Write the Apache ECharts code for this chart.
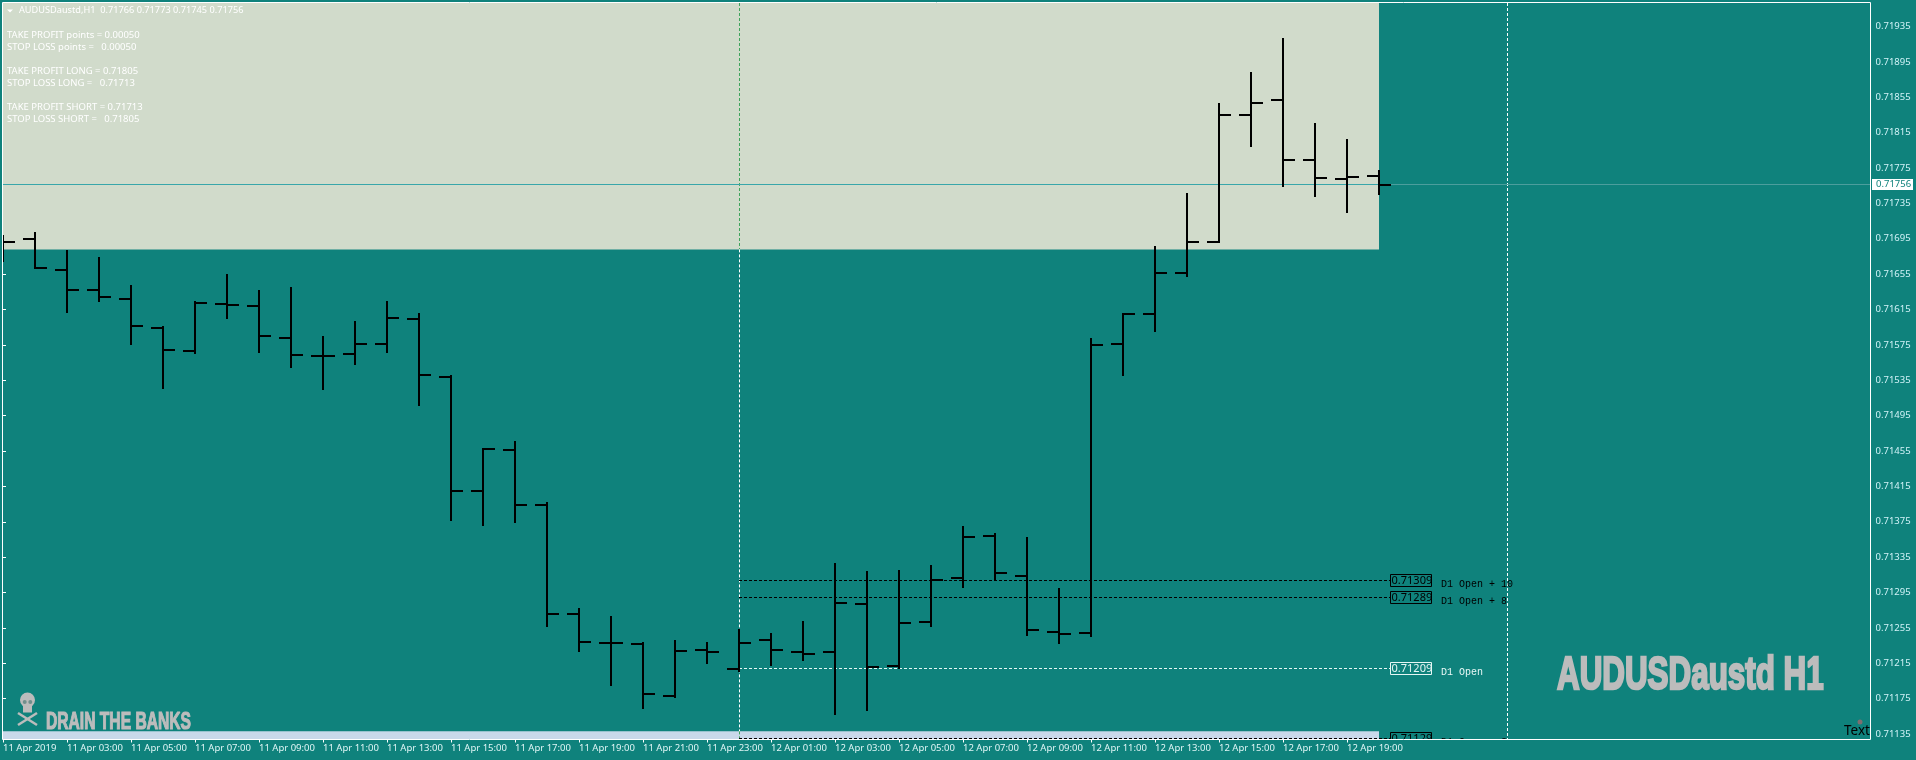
<!DOCTYPE html>
<html>
<head>
<meta charset="utf-8">
<title>AUDUSDaustd H1</title>
<style>
  html, body { margin: 0; padding: 0; background: #0f827c; }
  #chart { width: 1916px; height: 760px; }
</style>
<script src="https://cdn.jsdelivr.net/npm/echarts@6/dist/echarts.min.js"></script>
</head>
<body>
<div id="chart"></div>
<script>
// hourly bars, one row per bar: open, high, low, close
var ohlc = [
  [0.71691, 0.71699, 0.71669, 0.71691], [0.71695, 0.71703, 0.71661, 0.71662],
  [0.71660, 0.71682, 0.71611, 0.71637], [0.71637, 0.71674, 0.71623, 0.71629],
  [0.71627, 0.71643, 0.71575, 0.71596], [0.71594, 0.71596, 0.71525, 0.71569],
  [0.71568, 0.71625, 0.71565, 0.71622], [0.71621, 0.71655, 0.71604, 0.71620],
  [0.71619, 0.71637, 0.71566, 0.71585], [0.71583, 0.71640, 0.71549, 0.71564],
  [0.71562, 0.71585, 0.71524, 0.71562], [0.71565, 0.71602, 0.71552, 0.71576],
  [0.71576, 0.71625, 0.71566, 0.71605], [0.71604, 0.71611, 0.71506, 0.71541],
  [0.71539, 0.71541, 0.71376, 0.71410], [0.71410, 0.71458, 0.71370, 0.71457],
  [0.71456, 0.71466, 0.71374, 0.71394], [0.71394, 0.71397, 0.71256, 0.71271],
  [0.71271, 0.71278, 0.71228, 0.71239], [0.71238, 0.71268, 0.71189, 0.71238],
  [0.71237, 0.71239, 0.71163, 0.71180], [0.71178, 0.71241, 0.71176, 0.71229],
  [0.71230, 0.71239, 0.71214, 0.71228], [0.71209, 0.71254, 0.71205, 0.71238],
  [0.71241, 0.71249, 0.71212, 0.71230], [0.71228, 0.71263, 0.71218, 0.71226],
  [0.71228, 0.71328, 0.71157, 0.71283], [0.71282, 0.71319, 0.71161, 0.71211],
  [0.71212, 0.71320, 0.71209, 0.71261], [0.71262, 0.71326, 0.71256, 0.71309],
  [0.71311, 0.71370, 0.71300, 0.71358], [0.71359, 0.71362, 0.71309, 0.71317],
  [0.71314, 0.71358, 0.71246, 0.71253], [0.71250, 0.71300, 0.71237, 0.71248],
  [0.71249, 0.71583, 0.71245, 0.71575], [0.71576, 0.71611, 0.71540, 0.71610],
  [0.71610, 0.71687, 0.71590, 0.71656], [0.71656, 0.71747, 0.71652, 0.71691],
  [0.71691, 0.71848, 0.71690, 0.71835], [0.71835, 0.71884, 0.71799, 0.71848],
  [0.71852, 0.71922, 0.71754, 0.71784], [0.71784, 0.71826, 0.71742, 0.71764],
  [0.71763, 0.71808, 0.71724, 0.71765], [0.71766, 0.71773, 0.71745, 0.71756]
];

var timeTicks = [0, 2, 4, 6, 8, 10, 12, 14, 16, 18, 20, 22, 24, 26, 28, 30, 32, 34, 36, 38, 40, 42];
var timeLabels = [
  '11 Apr 2019', '11 Apr 03:00', '11 Apr 05:00', '11 Apr 07:00', '11 Apr 09:00', '11 Apr 11:00',
  '11 Apr 13:00', '11 Apr 15:00', '11 Apr 17:00', '11 Apr 19:00', '11 Apr 21:00', '11 Apr 23:00',
  '12 Apr 01:00', '12 Apr 03:00', '12 Apr 05:00', '12 Apr 07:00', '12 Apr 09:00', '12 Apr 11:00',
  '12 Apr 13:00', '12 Apr 15:00', '12 Apr 17:00', '12 Apr 19:00'
];
var priceTicks = [
  0.71135, 0.71175, 0.71215, 0.71255, 0.71295, 0.71335, 0.71375, 0.71415, 0.71455, 0.71495, 0.71535,
  0.71575, 0.71615, 0.71655, 0.71695, 0.71735, 0.71775, 0.71815, 0.71855, 0.71895, 0.71935
];

var lastPrice = 0.71756;
var daySeparators = [23, 47];

// D1 pivot levels, drawn from the day open bar to the price box
var levelPrices = [0.71309, 0.71289, 0.71209, 0.71130];
var levelBoxTexts = ['0.71309', '0.71289', '0.71209', '0.71129'];
var levelNames = ['D1 Open + 10', 'D1 Open + 8', 'D1 Open', 'D1 Open - 8'];
var levelColors = ['#000000', '#000000', '#e6f7f5', '#000000'];

// shaded take profit / stop loss zones: first bar, last bar, top price, bottom price
var zoneBars = [[0, 43], [0, 43]];
var zonePrices = [[0.719616, 0.71683], [0.71138, 0.711288]];
var zoneColors = ['#d1dbcb', '#c9d9ea'];

var infoLines = [
  'TAKE PROFIT points = 0.00050', 'STOP LOSS points =   0.00050', '',
  'TAKE PROFIT LONG = 0.71805', 'STOP LOSS LONG =   0.71713', '',
  'TAKE PROFIT SHORT = 0.71713', 'STOP LOSS SHORT =   0.71805'
];

var BG = '#0f827c';
var UI_FONT = '"Noto Sans"';
var GRAY = '#bcbcbc';
var xMax = 58.359;
var yMin = 0.711288, yMax = 0.719616;
var levelStart = 23, boxStart = 43.36, boxEnd = 44.64, nameStart = 44.94;

function crisp(v) { return Math.floor(v) + 0.5; }

function renderZone(params, api) {
  var i = api.value(0);
  var a = api.coord([zoneBars[i][0], zonePrices[i][0]]);
  var b = api.coord([zoneBars[i][1], zonePrices[i][1]]);
  return { type: 'rect', shape: { x: a[0], y: a[1], width: b[0] - a[0], height: b[1] - a[1] }, style: { fill: zoneColors[i] } };
}

function renderSeparator(params, api) {
  var x = crisp(api.coord([api.value(0), yMax])[0]);
  var top = api.coord([0, yMax])[1], bottom = api.coord([0, yMin])[1];
  var segs = [[top, bottom, '#ffffff']];
  if (api.value(0) < zoneBars[0][1]) {
    var y1 = api.coord([0, zonePrices[0][1]])[1], y2 = api.coord([0, zonePrices[1][0]])[1];
    segs = [[top, y1, '#3fa35c'], [y1, y2, '#ffffff'], [y2, bottom, '#3fa35c']];
  }
  return {
    type: 'group',
    children: segs.map(function(s) {
      return {
        type: 'line', shape: { x1: x, y1: s[0], x2: x, y2: s[1] },
        style: { stroke: s[2], lineWidth: 1, lineDash: [3, 2] }
      };
    })
  };
}

function renderPriceLine(params, api) {
  var y = crisp(api.coord([0, lastPrice])[1]);
  var a = api.coord([0, lastPrice])[0], m = api.coord([zoneBars[0][1], lastPrice])[0], b = api.coord([xMax, lastPrice])[0];
  return {
    type: 'group',
    children: [
      { type: 'line', shape: { x1: a, y1: y, x2: m, y2: y }, style: { stroke: '#38a6aa', lineWidth: 1 } },
      { type: 'line', shape: { x1: m, y1: y, x2: b, y2: y }, style: { stroke: '#4c9e9d', lineWidth: 1 } }
    ]
  };
}

function renderLevel(params, api) {
  var i = api.value(0), color = levelColors[i];
  var y = api.coord([0, levelPrices[i]])[1];
  var a = api.coord([levelStart, levelPrices[i]])[0];
  var b = api.coord([boxStart, levelPrices[i]])[0];
  var c = api.coord([boxEnd, levelPrices[i]])[0];
  var d = api.coord([nameStart, levelPrices[i]])[0];
  var ly = crisp(y);
  return {
    type: 'group',
    children: [
      { type: 'line', shape: { x1: a, y1: ly, x2: b, y2: ly }, style: { stroke: color, lineWidth: 1, lineDash: [3, 2] } },
      { type: 'rect', shape: { x: crisp(b), y: ly - 6, width: Math.round(c - b), height: 12 }, style: { fill: 'transparent', stroke: color, lineWidth: 1 } },
      { type: 'text', x: b + 1, y: ly, style: { text: levelBoxTexts[i], fill: color, font: '11px ' + UI_FONT, verticalAlign: 'middle' } },
      { type: 'text', x: d, y: ly + 4, style: { text: levelNames[i], fill: color, font: '10px "Liberation Mono"', verticalAlign: 'middle' } }
    ]
  };
}

function renderBar(params, api) {
  var i = api.value(0);
  var x = Math.round(api.coord([i, 0])[0]);
  var open = Math.round(api.coord([i, api.value(1)])[1]);
  var high = Math.round(api.coord([i, api.value(2)])[1]);
  var low = Math.round(api.coord([i, api.value(3)])[1]);
  var close = Math.round(api.coord([i, api.value(4)])[1]);
  var st = { stroke: '#000000', lineWidth: 2 };
  return {
    type: 'group',
    children: [
      { type: 'line', shape: { x1: x, y1: high, x2: x, y2: low }, style: st },
      { type: 'line', shape: { x1: x - 12, y1: open, x2: x, y2: open }, style: st },
      { type: 'line', shape: { x1: x, y1: close, x2: x + 12, y2: close }, style: st }
    ]
  };
}

function renderPriceTag(params, api) {
  var p = api.coord([xMax, lastPrice]);
  var y = crisp(p[1]);
  return {
    type: 'group',
    children: [
      { type: 'rect', shape: { x: p[0] + 1.5, y: y - 5.5, width: 41, height: 11 }, style: { fill: '#ffffff' } },
      { type: 'text', x: p[0] + 5.5, y: y, style: { text: lastPrice.toFixed(5), fill: BG, font: '9.5px ' + UI_FONT, verticalAlign: 'middle' } }
    ]
  };
}

function indexes(list) {
  return list.map(function(v, i) { return [i]; });
}

var overlay = [
  // chart frame
  { type: 'rect', shape: { x: 2.5, y: 2.5, width: 1868, height: 737 }, style: { fill: 'transparent', stroke: '#ffffff', lineWidth: 1 } },
  { type: 'polygon', shape: { points: [[7, 9.5], [13, 9.5], [10, 12.5]] }, style: { fill: '#ffffff' } },
  { type: 'text', x: 19, y: 10.5, style: { text: 'AUDUSDaustd,H1  0.71766 0.71773 0.71745 0.71756', fill: '#ffffff', font: '9.2px ' + UI_FONT, verticalAlign: 'middle' } },
  // watermark texts, squeezed to the condensed look of the original
  { type: 'text', x: 1557, y: 676, scaleX: 0.682, style: { text: 'AUDUSDaustd H1', fill: GRAY, font: 'bold 46px "Liberation Sans"', stroke: GRAY, lineWidth: 2.5, verticalAlign: 'middle' } },
  { type: 'text', x: 46, y: 723, scaleX: 0.665, style: { text: 'DRAIN THE BANKS', fill: GRAY, font: 'bold 23.5px "Liberation Sans"', stroke: GRAY, lineWidth: 1.2, verticalAlign: 'middle' } },
  // skull and bones
  { type: 'circle', shape: { cx: 27.5, cy: 700, r: 7.5 }, style: { fill: GRAY } },
  { type: 'rect', shape: { x: 23, y: 704, width: 9, height: 8.5 }, style: { fill: GRAY } },
  { type: 'circle', shape: { cx: 24.7, cy: 702, r: 2 }, style: { fill: '#6f8f8c' } },
  { type: 'circle', shape: { cx: 30.3, cy: 702, r: 2 }, style: { fill: '#6f8f8c' } },
  { type: 'line', shape: { x1: 18, y1: 713, x2: 37, y2: 725 }, style: { stroke: GRAY, lineWidth: 2.5 } },
  { type: 'line', shape: { x1: 37, y1: 713, x2: 18, y2: 725 }, style: { stroke: GRAY, lineWidth: 2.5 } },
  { type: 'text', x: 1844, y: 731, style: { text: 'Text', fill: '#000000', font: '13.5px ' + UI_FONT, verticalAlign: 'middle' } },
  { type: 'circle', shape: { cx: 1860, cy: 722, r: 2.5 }, style: { fill: '#7d6f70' } }
];
infoLines.forEach(function(line, i) {
  if (line) {
    overlay.push({
      type: 'text', x: 7, y: 35.5 + i * 12,
      style: { text: line, fill: '#ffffff', font: '9.5px ' + UI_FONT, verticalAlign: 'middle' }
    });
  }
});
overlay.forEach(function(el) { el.z = 10; el.silent = true; });

var chart = echarts.init(document.getElementById('chart'));
chart.setOption({
  animation: false,
  backgroundColor: BG,
  tooltip: { show: false },
  grid: { left: 3, right: 45.5, top: 3, bottom: 20.5 },
  xAxis: {
    type: 'value', min: 0, max: xMax,
    splitLine: { show: false },
    axisLine: { show: false },
    axisTick: { show: true, length: 3, customValues: timeTicks, lineStyle: { color: '#ffffff' } },
    axisLabel: {
      customValues: timeTicks, align: 'left', margin: 4, color: '#e0f6f6',
      fontFamily: 'Noto Sans', fontSize: 9.5, hideOverlap: false,
      formatter: function(v) { return timeLabels[timeTicks.indexOf(v)]; }
    }
  },
  yAxis: {
    type: 'value', position: 'right', min: yMin, max: yMax, scale: true,
    splitLine: { show: false },
    axisLine: { show: false },
    axisTick: { show: true, length: 3, customValues: priceTicks, lineStyle: { color: '#ffffff' } },
    axisLabel: {
      customValues: priceTicks, margin: 5, color: '#d2f3f8',
      fontFamily: 'Noto Sans', fontSize: 9.5, hideOverlap: false,
      formatter: function(v) { return v.toFixed(5); }
    }
  },
  series: [
    { type: 'custom', name: 'zones', clip: true, silent: true, z: 1, renderItem: renderZone, data: indexes(zoneColors) },
    { type: 'custom', name: 'separators', clip: true, silent: true, z: 2, renderItem: renderSeparator, data: daySeparators.map(function(v) { return [v]; }) },
    { type: 'custom', name: 'price line', clip: true, silent: true, z: 2, renderItem: renderPriceLine, data: [[0]] },
    { type: 'custom', name: 'levels', clip: true, silent: true, z: 3, renderItem: renderLevel, data: indexes(levelPrices) },
    {
      type: 'custom', name: 'AUDUSDaustd', clip: true, silent: true, z: 4, renderItem: renderBar,
      data: ohlc.map(function(r, i) { return [i, r[0], r[1], r[2], r[3]]; })
    },
    { type: 'custom', name: 'price tag', clip: false, silent: true, z: 5, renderItem: renderPriceTag, data: [[0]] }
  ],
  graphic: overlay
});
</script>
</body>
</html>
